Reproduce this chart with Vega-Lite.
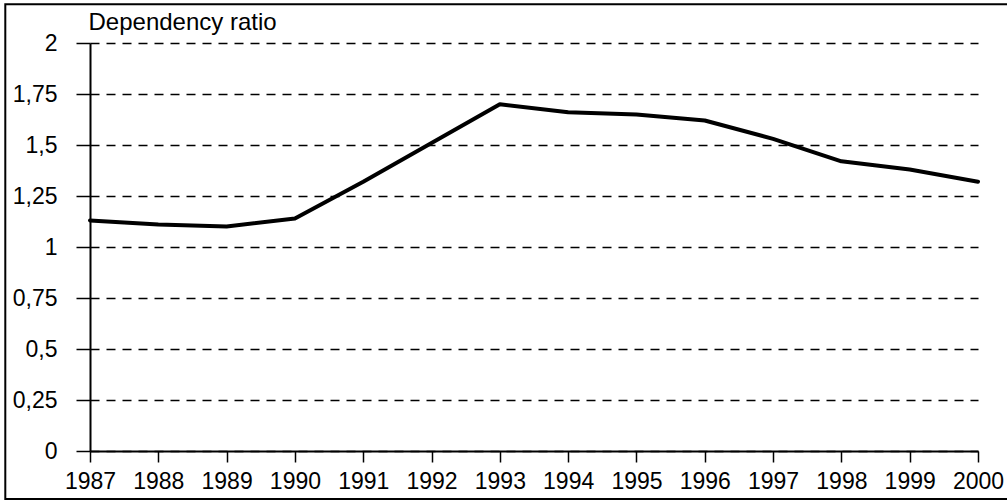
{
  "$schema": "https://vega.github.io/schema/vega-lite/v6.json",
  "width": 888,
  "height": 408,
  "autosize": "none",
  "padding": {"left": 90, "top": 43, "right": 29, "bottom": 51},
  "background": "white",
  "config": {
    "view": {"stroke": null},
    "font": "Liberation Sans"
  },
  "datasets": {
    "series": [
      {"year": 1987, "ratio": 1.13},
      {"year": 1988, "ratio": 1.11},
      {"year": 1989, "ratio": 1.10},
      {"year": 1990, "ratio": 1.14},
      {"year": 1991, "ratio": 1.32},
      {"year": 1992, "ratio": 1.51},
      {"year": 1993, "ratio": 1.70},
      {"year": 1994, "ratio": 1.66},
      {"year": 1995, "ratio": 1.65},
      {"year": 1996, "ratio": 1.62},
      {"year": 1997, "ratio": 1.53},
      {"year": 1998, "ratio": 1.42},
      {"year": 1999, "ratio": 1.38},
      {"year": 2000, "ratio": 1.32}
    ],
    "frame": [
      {"x1": 1985.76, "x2": 2001.5, "y1": -0.235, "y2": 2.19}
    ]
  },
  "layer": [
    {
      "data": {"name": "series"},
      "mark": {"type": "line", "color": "black", "strokeWidth": 4, "strokeJoin": "round", "strokeCap": "round"},
      "encoding": {
        "x": {
          "field": "year", "type": "quantitative",
          "scale": {"domain": [1987, 2000], "nice": false, "zero": false},
          "axis": {
            "values": [1987, 1988, 1989, 1990, 1991, 1992, 1993, 1994, 1995, 1996, 1997, 1998, 1999, 2000],
            "format": "d",
            "title": null,
            "grid": false,
            "domainColor": "black", "domainWidth": 2,
            "tickColor": "black", "tickWidth": 1.5, "tickSize": 11,
            "labelFontSize": 23, "labelColor": "black", "labelPadding": 8,
            "labelFont": "Liberation Sans", "labelOverlap": false, "labelFlush": false
          }
        },
        "y": {
          "field": "ratio", "type": "quantitative",
          "scale": {"domain": [0, 2], "nice": false},
          "axis": {
            "values": [0, 0.25, 0.5, 0.75, 1, 1.25, 1.5, 1.75, 2],
            "labelExpr": "replace(toString(datum.value), '.', ',')",
            "grid": true, "gridColor": "black", "gridDash": [9, 7], "gridWidth": 1.5,
            "domainColor": "black", "domainWidth": 2,
            "tickColor": "black", "tickWidth": 1.5, "tickSize": 14,
            "labelFontSize": 23, "labelColor": "black", "labelPadding": 19,
            "labelFont": "Liberation Sans", "labelFlush": false, "labelOverlap": false,
            "title": "Dependency ratio",
            "titleAngle": 0, "titleAlign": "left", "titleBaseline": "alphabetic",
            "titleX": -2, "titleY": -14,
            "titleFontSize": 24, "titleFontWeight": "normal", "titleColor": "black",
            "titleFont": "Liberation Sans"
          }
        }
      }
    },
    {
      "data": {"name": "frame"},
      "mark": {"type": "rect", "fill": null, "stroke": "black", "strokeWidth": 2, "clip": false},
      "encoding": {
        "x": {"field": "x1", "type": "quantitative"},
        "x2": {"field": "x2"},
        "y": {"field": "y1", "type": "quantitative"},
        "y2": {"field": "y2"}
      }
    }
  ]
}
